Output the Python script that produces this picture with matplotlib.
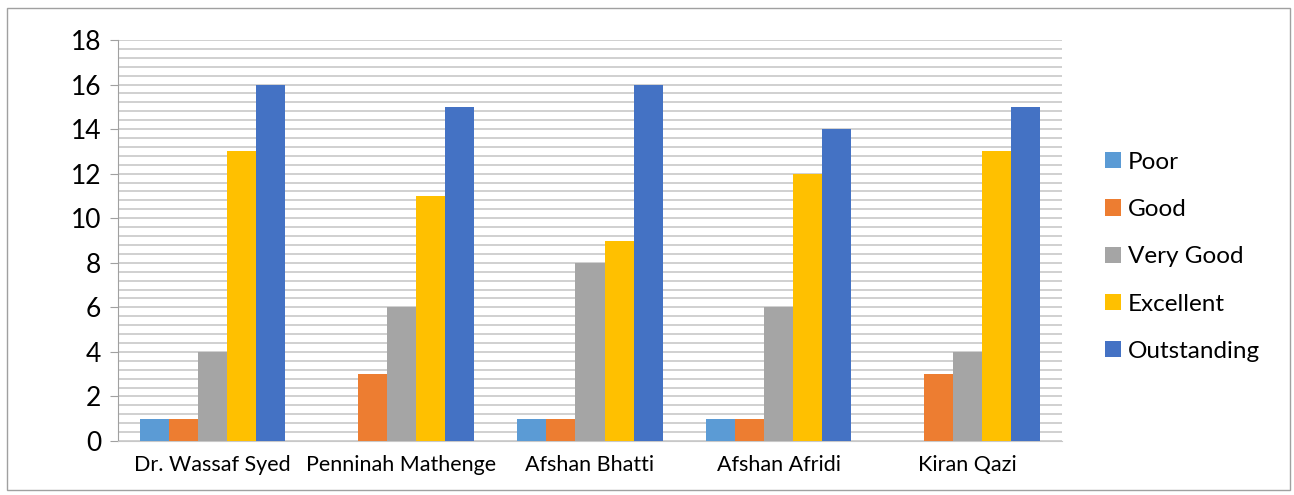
import matplotlib
matplotlib.use("Agg")
import matplotlib.pyplot as plt
import numpy as np
from matplotlib.patches import Rectangle

categories = ["Dr. Wassaf Syed", "Penninah Mathenge", "Afshan Bhatti", "Afshan Afridi", "Kiran Qazi"]
series_names = ["Poor", "Good", "Very Good", "Excellent", "Outstanding"]
poor = [1, 0, 1, 1, 0]
good = [1, 3, 1, 1, 3]
very_good = [4, 6, 8, 6, 4]
excellent = [13, 11, 9, 12, 13]
outstanding = [16, 15, 16, 14, 15]
colors = ["#5B9BD5", "#ED7D31", "#A5A5A5", "#FFC000", "#4472C4"]

plt.rcParams['font.family'] = ['Lato', 'DejaVu Sans']

fig = plt.figure(figsize=(12.94, 4.95), dpi=100)
ax = fig.add_axes([118/1294, 1 - 441/495, (1062-118)/1294, (441-40)/495])

series = [poor, good, very_good, excellent, outstanding]
x = np.arange(len(categories))
bw = 0.154
for i, (vals, name, c) in enumerate(zip(series, series_names, colors)):
    ax.bar(x + (i - 2) * bw, vals, width=bw, color=c, label=name, zorder=3)

ax.set_xlim(-0.5, len(categories) - 0.5)
ax.set_ylim(0, 18)
ax.set_yticks(np.arange(0, 19, 2))
ax.set_yticks(np.arange(0, 18.01, 0.4), minor=True)
ax.tick_params(axis='y', which='minor', length=0)
ax.grid(axis='y', which='both', color='#C8C8C8', linewidth=1.2, zorder=0)
ax.set_xticks(x)
ax.set_xticklabels(categories)
ax.tick_params(axis='x', length=0, labelsize=15.5, pad=10)
ax.tick_params(axis='y', which='major', length=6, color='#A0A0A0', labelsize=19, pad=6, direction='out')
for s in ['top', 'right']:
    ax.spines[s].set_visible(False)
ax.spines['left'].set_color('#A0A0A0')
ax.spines['bottom'].set_color('#C8C8C8')

leg = fig.legend(loc='upper left', bbox_to_anchor=(1083/1294, 1 - 130/495), frameon=False,
                 fontsize=17.5, handlelength=0.65, handleheight=0.65, labelspacing=1.08, handletextpad=0.3)

fig.patches.append(Rectangle((7/1294, 1 - 490/495), (1290-7)/1294, (490-8)/495, transform=fig.transFigure,
                             fill=False, edgecolor='#A0A0A0', linewidth=1))

fig.savefig("out.png", dpi=100)
